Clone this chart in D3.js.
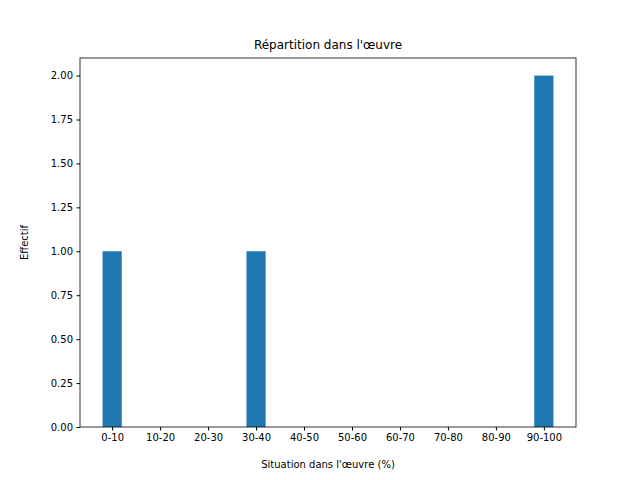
<!DOCTYPE html>
<html>
<head>
<meta charset="utf-8">
<script src="https://cdn.jsdelivr.net/npm/d3@7"></script>
<style>
body { margin: 0; background: #fff; }
text { font-family: "DejaVu Sans", sans-serif; }
</style>
</head>
<body>
<div id="chart"></div>
<script>
const categories = ["0-10", "10-20", "20-30", "30-40", "40-50", "50-60", "60-70", "70-80", "80-90", "90-100"];
const counts = [1, 0, 0, 1, 0, 0, 0, 0, 0, 2];
const yTicks = [0, 0.25, 0.5, 0.75, 1, 1.25, 1.5, 1.75, 2];

const svgWidth = 640, svgHeight = 480;
const margin = { top: 58, right: 64, bottom: 53, left: 80 };
const width = svgWidth - margin.left - margin.right;
const height = svgHeight - margin.top - margin.bottom;
const barW = 0.4;

const svg = d3.select("#chart").append("svg")
    .attr("width", svgWidth).attr("height", svgHeight)
    .append("g")
    .attr("transform", `translate(${margin.left},${margin.top})`);

const x = d3.scaleLinear()
    .domain([-barW / 2 - 0.47, categories.length - 1 + barW / 2 + 0.47])
    .range([0, width]);
const y = d3.scaleLinear().domain([0, 2.1]).range([height, 0]);

svg.selectAll("rect.bar")
    .data(counts)
    .join("rect")
    .attr("class", "bar")
    .attr("x", (d, i) => x(i - barW / 2))
    .attr("width", x(barW) - x(0))
    .attr("y", d => y(d))
    .attr("height", d => height - y(d))
    .attr("fill", "#1f77b4");

const xAxis = svg.append("g")
    .attr("transform", `translate(0,${height})`)
    .call(d3.axisBottom(x)
        .tickValues(d3.range(categories.length))
        .tickFormat(i => categories[i])
        .tickSizeOuter(0).tickSize(3.5).tickPadding(3.5));

const yAxis = svg.append("g")
    .call(d3.axisLeft(y)
        .tickValues(yTicks)
        .tickFormat(d3.format(".2f"))
        .tickSizeOuter(0).tickSize(3.5).tickPadding(3.5));

[xAxis, yAxis].forEach(a => {
    a.selectAll("text").attr("font-size", 10).attr("fill", "#000")
        .style("font-family", "DejaVu Sans");
    a.select(".domain").remove();
    a.selectAll("line").attr("stroke", "#000");
});

svg.append("rect")
    .attr("width", width).attr("height", height)
    .attr("fill", "none").attr("stroke", "#000").attr("stroke-width", 0.8);

svg.append("text")
    .attr("x", width / 2).attr("y", -9)
    .attr("text-anchor", "middle").attr("font-size", 12)
    .text("Répartition dans l'œuvre");

svg.append("text")
    .attr("x", width / 2).attr("y", height + 41)
    .attr("text-anchor", "middle").attr("font-size", 10)
    .text("Situation dans l'œuvre (%)");

svg.append("text")
    .attr("transform", "rotate(-90)")
    .attr("x", -height / 2).attr("y", -52)
    .attr("text-anchor", "middle").attr("font-size", 10)
    .text("Effectif");
</script>
</body>
</html>
